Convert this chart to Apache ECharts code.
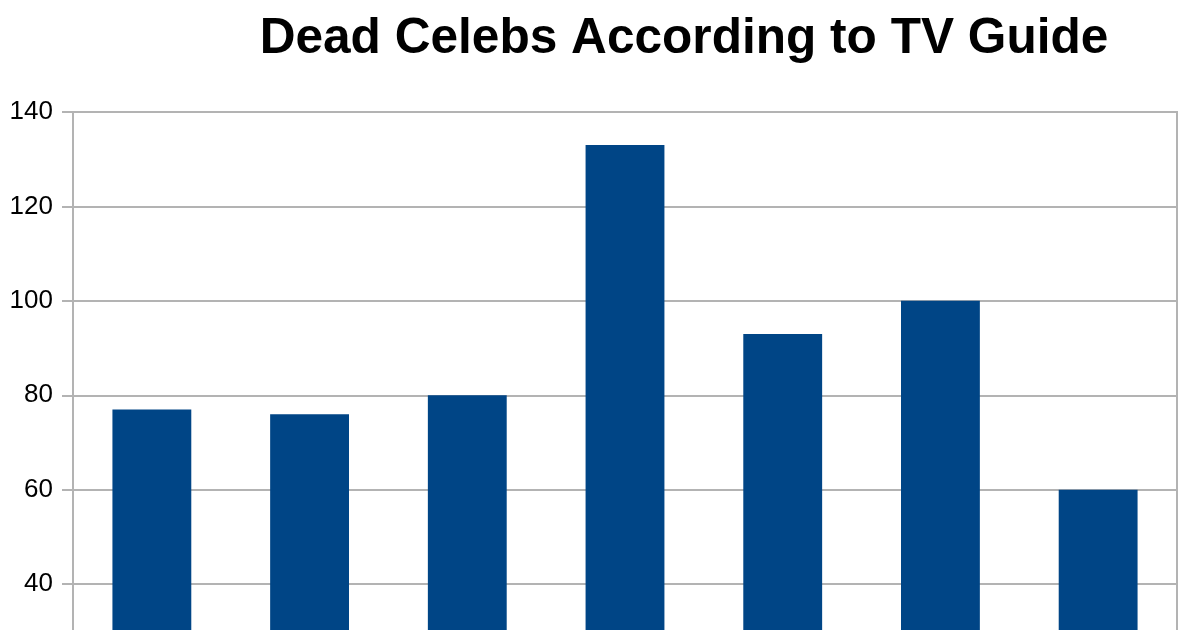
<!DOCTYPE html>
<html>
<head>
<meta charset="utf-8">
<script src="https://cdn.jsdelivr.net/npm/echarts@6/dist/echarts.min.js"></script>
<style>
html,body{margin:0;padding:0;background:#fff;overflow:hidden;width:1200px;height:630px;}
#chart{width:1200px;height:820px;}
</style>
</head>
<body>
<div id="chart"></div>
<script>
var titleText = "Dead Celebs According to TV Guide";
var categories = ["1", "2", "3", "4", "5", "6", "7"];
var values = [77, 76, 80, 133, 93, 100, 60];
var yTicks = { min: 0, max: 140, interval: 20 };

var chart = echarts.init(document.getElementById('chart'), null, { renderer: 'canvas' });
chart.setOption({
  animation: false,
  backgroundColor: '#ffffff',
  title: {
    text: titleText,
    left: 679,
    top: 9,
    textAlign: 'center',
    textStyle: {
      fontFamily: 'Liberation Sans',
      fontWeight: 'bold',
      fontSize: 49.6,
      color: '#000000'
    }
  },
  grid: {
    left: 73,
    right: 23,
    top: 112,
    bottom: 47,
    show: true,
    borderColor: '#b3b3b3',
    borderWidth: 2,
    containLabel: false
  },
  xAxis: {
    type: 'category',
    data: categories,
    axisLine: { show: false },
    axisTick: { show: false },
    axisLabel: { show: false },
    splitLine: { show: false }
  },
  yAxis: {
    type: 'value',
    min: yTicks.min,
    max: yTicks.max,
    interval: yTicks.interval,
    axisLine: { show: true, lineStyle: { color: '#b3b3b3', width: 2 } },
    axisTick: { show: true, length: 11, lineStyle: { color: '#b3b3b3', width: 2 } },
    axisLabel: {
      margin: 20,
      fontFamily: 'Liberation Sans',
      fontSize: 26,
      color: '#000000'
    },
    splitLine: { show: true, lineStyle: { color: '#b3b3b3', width: 2 } }
  },
  series: [{
    type: 'bar',
    data: values,
    barWidth: '50%',
    itemStyle: { color: '#004586' }
  }]
});
</script>
</body>
</html>
